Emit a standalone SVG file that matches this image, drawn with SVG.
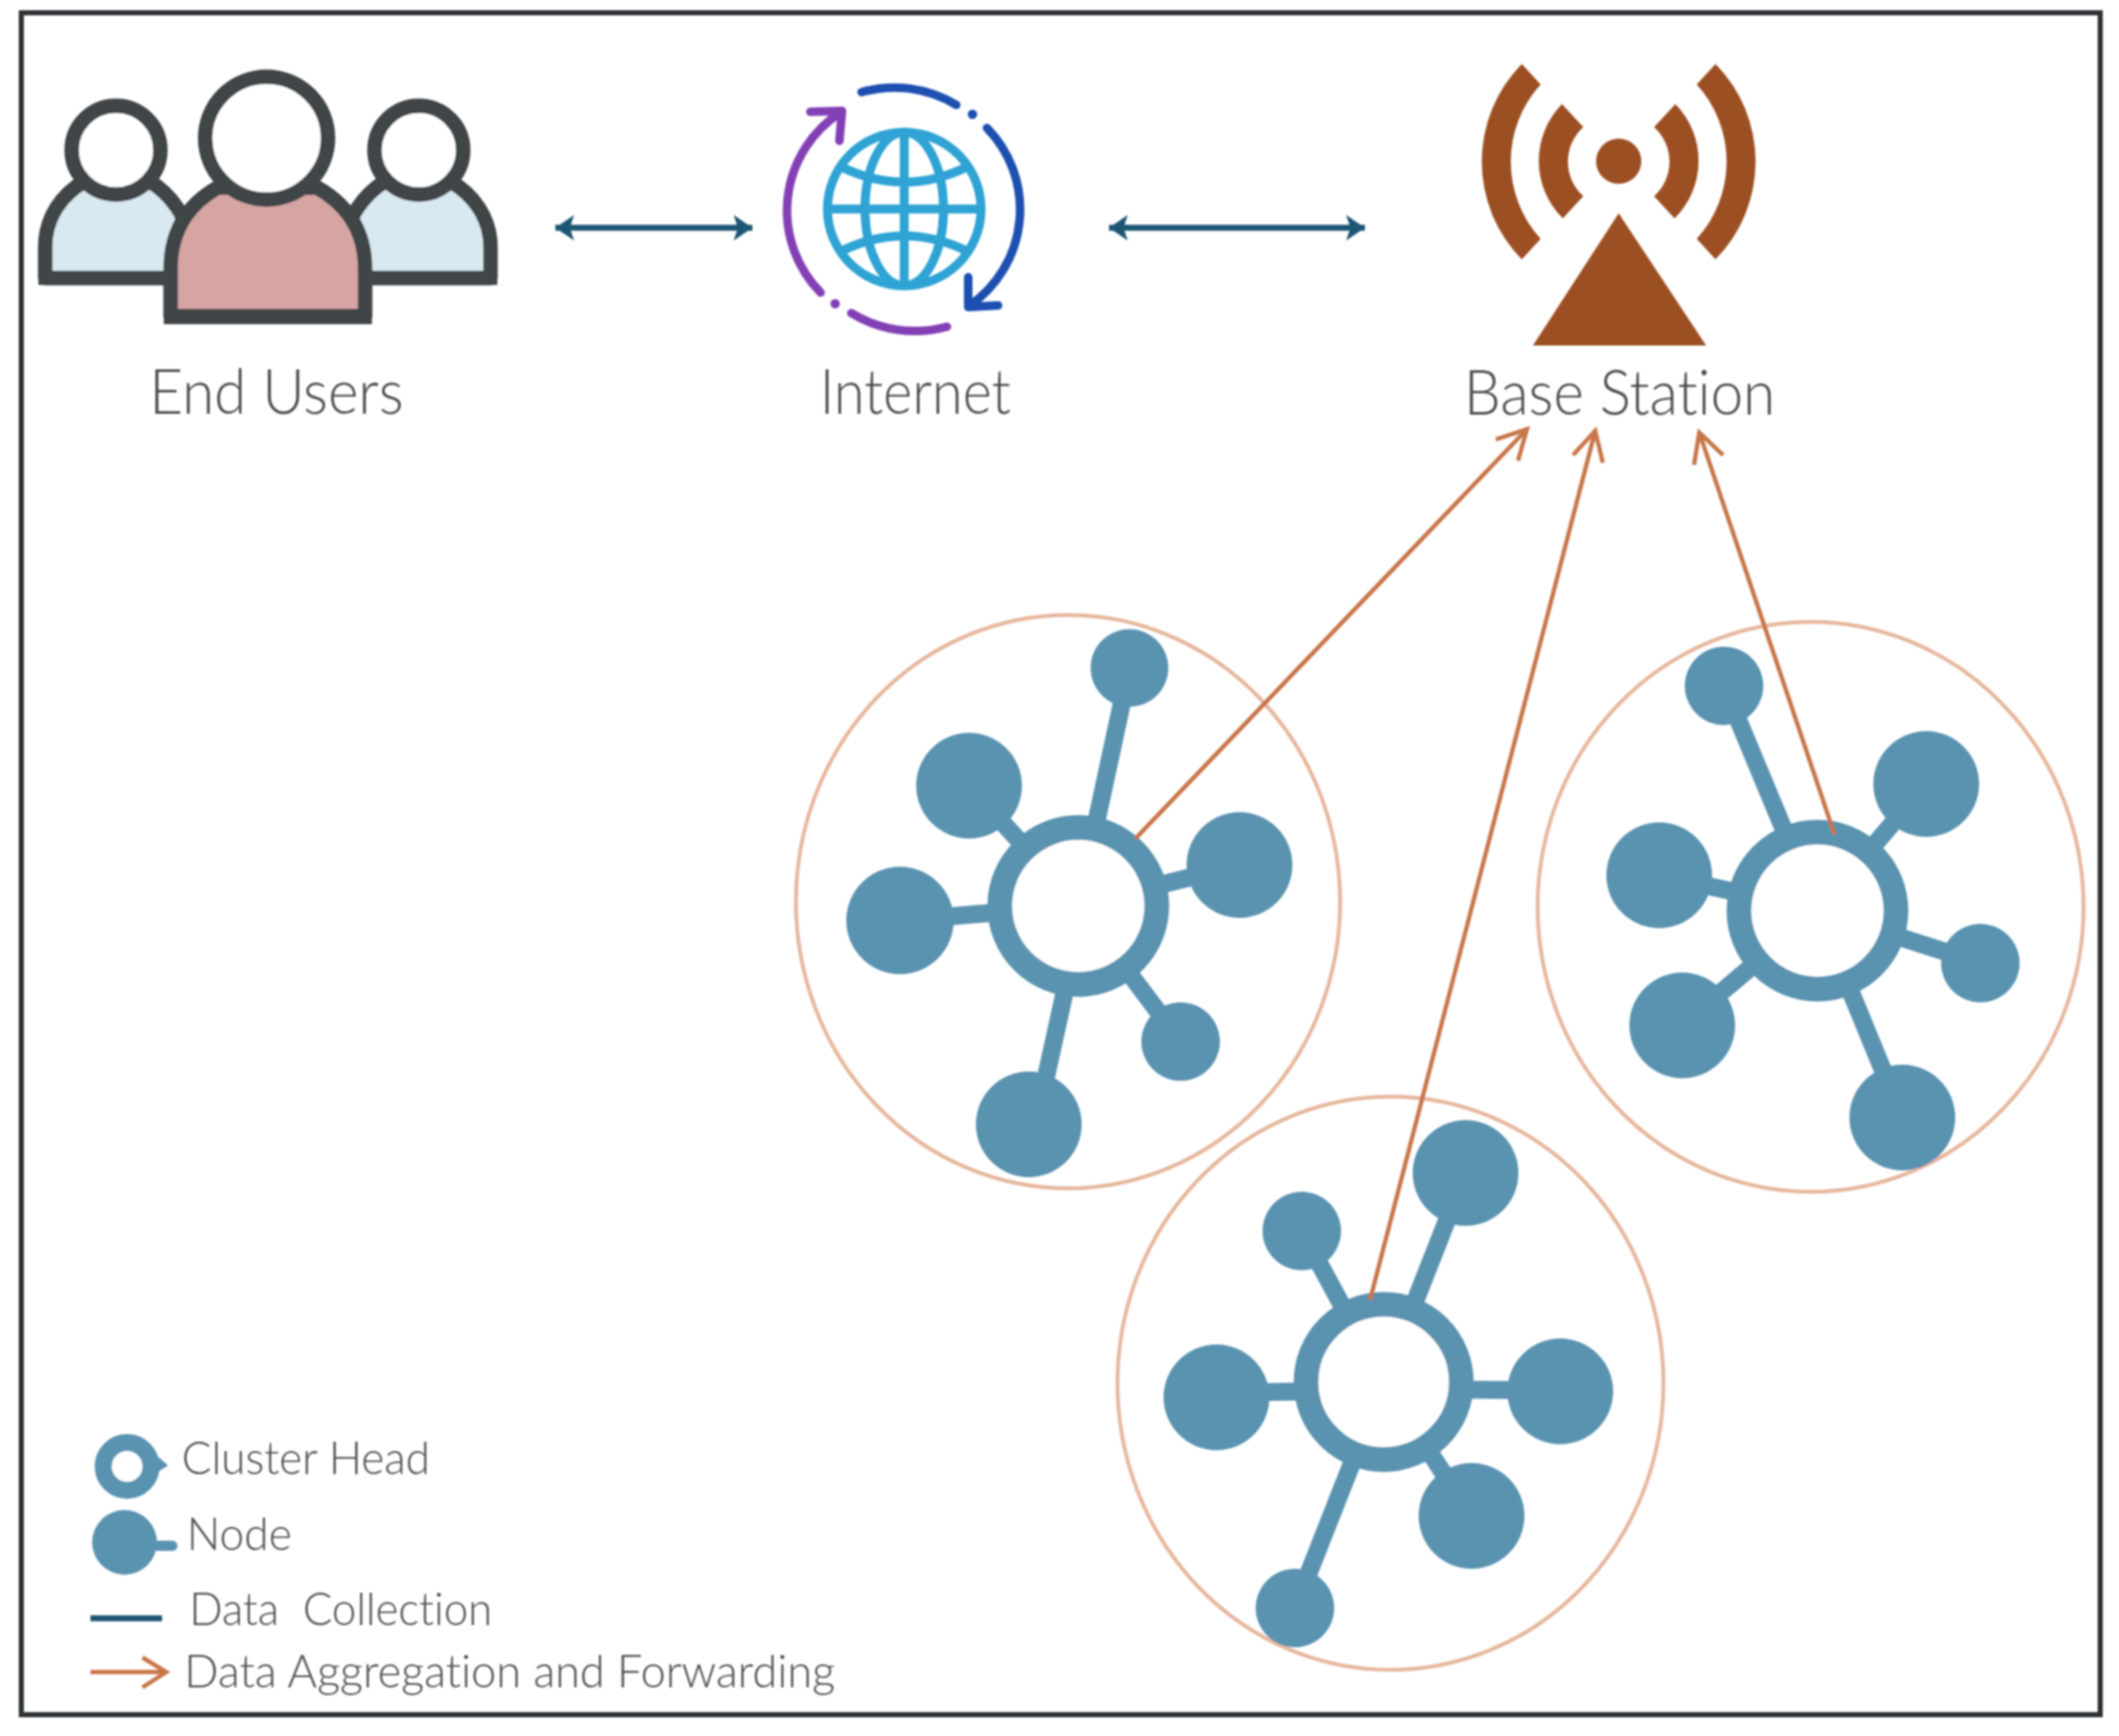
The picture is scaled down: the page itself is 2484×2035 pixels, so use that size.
<svg xmlns="http://www.w3.org/2000/svg" width="2484" height="2035" viewBox="0 0 2484 2035">
<style>
.lbl{font-family:"Lato","Open Sans","Liberation Sans",sans-serif;font-weight:300;fill:#474b4d;white-space:pre;font-variant-ligatures:none}
.big{font-size:72px}
.leg{font-size:54px}
.bnd{fill:none;stroke:#e6b79d;stroke-width:4.5}
.ring{fill:#fff;stroke:#5a93b0;stroke-width:29}
.dot{fill:#5a93b0}
.spoke{stroke:#5a93b0;stroke-width:21;fill:none}
.data{stroke:#1f5673;stroke-width:7;fill:none}
.agg{stroke:#c8764a;stroke-width:5;fill:none}
.usr{stroke:#3f4447;stroke-width:17;stroke-linejoin:round}
.bs{fill:#9c4f22}
.pur{fill:none;stroke:#8340b5;stroke-width:10;stroke-linecap:round;stroke-linejoin:round}
.blu{fill:none;stroke:#1f4fb0;stroke-width:10;stroke-linecap:round;stroke-linejoin:round}
.glb{fill:none;stroke:#2ea3d4;stroke-width:10.500}
</style>
<defs>
<filter id="soft" x="0" y="0" width="2484" height="2035" filterUnits="userSpaceOnUse"><feGaussianBlur stdDeviation="1"/></filter>
<marker id="open" markerUnits="userSpaceOnUse" markerWidth="44" markerHeight="44" viewBox="-38 -22 44 44" refX="0" refY="0" orient="auto"><path d="M-34,-18 L0,0 L-34,18" fill="none" stroke="#c8764a" stroke-width="5"/></marker>
<marker id="dh" markerUnits="userSpaceOnUse" markerWidth="44" markerHeight="44" viewBox="-30 -22 44 44" refX="0" refY="0" orient="auto-start-reverse"><path d="M-22,-15 L0,0 L-22,15 L-17,0 Z" fill="#1f5673"/></marker>
</defs>
<rect width="2484" height="2035" fill="#fff"/>
<g filter="url(#soft)">
<rect id="frame" x="25" y="15" width="2437" height="1995" fill="none" stroke="#2f3234" stroke-width="6"/>

<g id="end-users">
<path class="usr" fill="#d8e9f1" d="M53,326 V290 C53,255 72,228 100,212 H175 C200,228 222,255 222,290 V326 Z"/>
<path class="usr" fill="#d8e9f1" d="M575,326 V290 C575,255 555,228 527,212 H452 C427,228 405,255 405,290 V326 Z"/>
<circle class="usr" fill="#fff" cx="136" cy="176" r="52"/>
<circle class="usr" fill="#fff" cx="491" cy="176" r="52"/>
<path class="usr" fill="#d6a5a3" d="M200,371 V315 C200,270 220,240 255,220 H372 C407,240 428,270 428,315 V371 Z"/>
<path fill="#3f4447" d="M192,362 H436 V380 H192 Z"/>
<circle class="usr" fill="#fff" cx="312.500" cy="162" r="72"/>
<path fill="#3f4447" d="M45,318 H195 V334 H45 Z M432,318 H583 V334 H432 Z"/>
<text class="lbl big" x="175" y="485" textLength="298" lengthAdjust="spacingAndGlyphs">End Users</text>
</g>

<g id="internet">
<circle class="glb" cx="1060" cy="245" r="90"/>
<ellipse class="glb" cx="1060" cy="245" rx="46" ry="90"/>
<path class="glb" d="M1060,155 V335 M970,245 H1150 M985,195 Q1060,232 1135,195 M985,295 Q1060,258 1135,295"/>
<path class="blu" d="M1010,108 A140,140 0 0 1 1121,123 M1157,150 A137,137 0 0 1 1137,358 M1135,325 V360 L1170,358"/>
<circle cx="1140" cy="134" r="5.500" fill="#1f4fb0"/>
<path class="pur" d="M962,343 A137,137 0 0 1 985,132 M950,131 L987,130 L984,165 M998,367 A142,142 0 0 0 1110,383"/>
<circle cx="979" cy="356" r="5.500" fill="#8340b5"/>
<text class="lbl big" x="961" y="485" textLength="224" lengthAdjust="spacingAndGlyphs">Internet</text>
</g>

<g id="base-station">
<path class="bs" d="M1897.500,250 L2000,405 H1797 Z"/>
<circle class="bs" cx="1897.500" cy="189" r="26.500"/>
<path class="bs" d="M1831,122 L1856,149 A54.500,54.500 0 0 0 1856,230 L1832,256 A95,95 0 0 1 1831,122 Z"/>
<path class="bs" d="M1964,122 L1939,149 A54.500,54.500 0 0 1 1939,230 L1963,256 A95,95 0 0 0 1964,122 Z"/>
<path class="bs" d="M1784,75 L1806,99 A134.500,134.500 0 0 0 1806,280 L1784,304 A163,163 0 0 1 1784,75 Z"/>
<path class="bs" d="M2011,75 L1989,99 A134.500,134.500 0 0 1 1989,280 L2011,304 A163,163 0 0 0 2011,75 Z"/>
<text class="lbl big" x="1716" y="486" textLength="365" lengthAdjust="spacingAndGlyphs">Base Station</text>
</g>

<g id="cluster-1">
<ellipse class="bnd" cx="1252" cy="1057" rx="319" ry="336"/>
<g id="c1-head"><circle class="ring" cx="1264" cy="1062" r="92"/></g>
<g id="c1-n1"><circle class="dot" cx="1324" cy="783" r="45.500"/></g>
<g id="c1-n2"><circle class="dot" cx="1136" cy="921" r="62"/></g>
<g id="c1-n3"><circle class="dot" cx="1453" cy="1014" r="62"/></g>
<g id="c1-n4"><circle class="dot" cx="1055" cy="1079" r="63"/></g>
<g id="c1-n5"><circle class="dot" cx="1384" cy="1221" r="46"/></g>
<g id="c1-n6"><circle class="dot" cx="1206" cy="1318" r="62"/></g>
</g>

<g id="cluster-2">
<ellipse class="bnd" cx="2122.500" cy="1063" rx="320" ry="334"/>
<g id="c2-head"><circle class="ring" cx="2130.500" cy="1067.500" r="92"/></g>
<g id="c2-n1"><circle class="dot" cx="2021" cy="804" r="46"/></g>
<g id="c2-n2"><circle class="dot" cx="2258" cy="919" r="62"/></g>
<g id="c2-n3"><circle class="dot" cx="1945" cy="1026" r="62"/></g>
<g id="c2-n4"><circle class="dot" cx="2321.500" cy="1129" r="46"/></g>
<g id="c2-n5"><circle class="dot" cx="1972" cy="1202" r="62"/></g>
<g id="c2-n6"><circle class="dot" cx="2230" cy="1310" r="62"/></g>
</g>

<g id="cluster-3">
<ellipse class="bnd" cx="1630" cy="1621.500" rx="320" ry="336"/>
<g id="c3-head"><circle class="ring" cx="1622" cy="1620" r="91"/></g>
<g id="c3-n1"><circle class="dot" cx="1718" cy="1375" r="62"/></g>
<g id="c3-n2"><circle class="dot" cx="1526" cy="1443" r="46"/></g>
<g id="c3-n3"><circle class="dot" cx="1426" cy="1638" r="62"/></g>
<g id="c3-n4"><circle class="dot" cx="1829" cy="1631" r="62"/></g>
<g id="c3-n5"><circle class="dot" cx="1725" cy="1777" r="62"/></g>
<g id="c3-n6"><circle class="dot" cx="1518" cy="1885" r="46"/></g>
</g>

<g id="legend">
<g id="legend-head"><circle cx="149" cy="1719" r="28" fill="#fff" stroke="#5a93b0" stroke-width="20"/><path class="dot" d="M186,1708 L197,1718 L184,1726 Z"/>
<text class="lbl leg" x="213" y="1728" textLength="291" lengthAdjust="spacingAndGlyphs">Cluster Head</text></g>
<g id="legend-node"><circle class="dot" cx="146" cy="1808" r="38"/><path d="M175,1812 H202" stroke="#5a93b0" stroke-width="12" stroke-linecap="round"/>
<text class="lbl leg" x="219" y="1817" textLength="123" lengthAdjust="spacingAndGlyphs">Node</text></g>
<g id="legend-collection"><path class="data" d="M106,1897 H190"/>
<text class="lbl leg" x="222" y="1905" textLength="355" lengthAdjust="spacingAndGlyphs">Data  Collection</text></g>
<g id="legend-aggregation"><path class="agg" d="M106,1960 H193 M167,1943 L195,1960 L167,1978"/>
<text class="lbl leg" x="216" y="1978" textLength="763" lengthAdjust="spacingAndGlyphs">Data Aggregation and Forwarding</text></g>
</g>

<g id="connectors">
<path class="spoke" d="M1282.500,976 L1324,783 M1205,997 L1136,921 M1349,1040 L1453,1014 M1176,1069 L1055,1079 M1317,1132 L1384,1221 M1252,1145 L1214,1318"/>
<path class="spoke" d="M2096.700,986 L2021,804 M2188,1001 L2258,919 M2044.600,1048 L1945,1026 M2214.300,1094.400 L2321.500,1129 M2063.400,1124.400 L1972,1202 M2164,1149 L2230,1310"/>
<path class="spoke" d="M1654,1538 L1718,1375 M1580,1543 L1526,1443 M1534,1631 L1426,1633 M1710,1629 L1829,1630 M1670,1693.500 L1725,1777 M1590,1702 L1518,1885"/>
<path class="data" d="M651,267 H882" marker-start="url(#dh)" marker-end="url(#dh)"/>
<path class="data" d="M1300,267 H1600" marker-start="url(#dh)" marker-end="url(#dh)"/>
<path class="agg" d="M1331,983 L1790,503" marker-end="url(#open)"/>
<path class="agg" d="M1606,1524 L1870,505" marker-end="url(#open)"/>
<path class="agg" d="M2150.500,978 L1992,507" marker-end="url(#open)"/>
</g>
</g>
</svg>
